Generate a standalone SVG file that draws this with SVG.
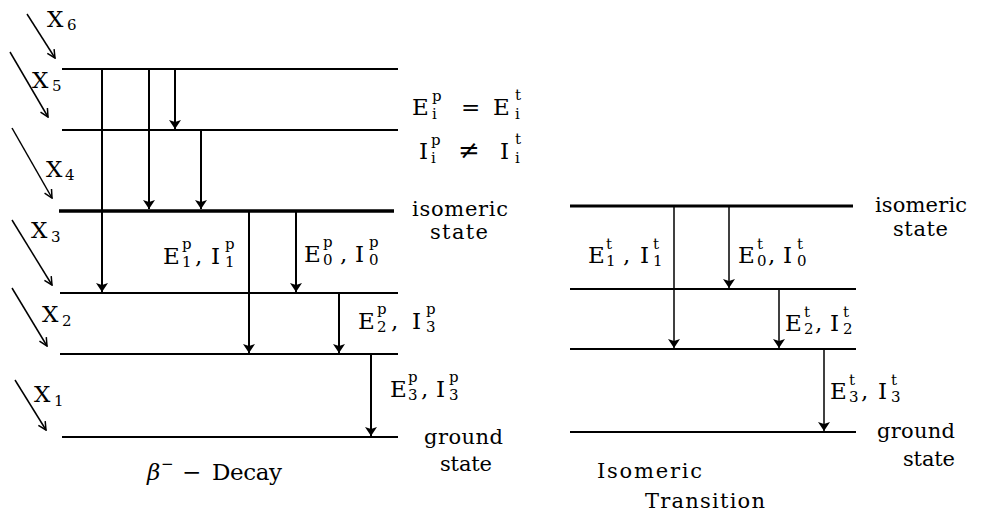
<svg xmlns="http://www.w3.org/2000/svg" width="991" height="514" viewBox="0 0 991 514">
<style>
.lv{stroke:#000;stroke-width:2;fill:none}
.thick{stroke-width:3.5}
.ar{stroke:#000;stroke-width:2;fill:none;marker-end:url(#ah)}
.ar2{stroke:#000;stroke-width:1.5;fill:none;marker-end:url(#ah)}
.dg{stroke:#000;stroke-width:1.5;fill:none;marker-end:url(#oh)}
text{font-family:"DejaVu Serif","Liberation Serif",serif;font-size:23px;fill:#000}
.s{font-size:15px}
.w{font-size:21px}
</style>
<defs>
<marker id="ah" viewBox="0 0 9 12" refX="9" refY="6" markerWidth="9" markerHeight="12" markerUnits="userSpaceOnUse" orient="auto"><path d="M0,0 L9,6 L0,12 L2,6 z" fill="#000"/></marker>
<marker id="oh" viewBox="0 0 10 10" refX="9" refY="5" markerWidth="10" markerHeight="10" markerUnits="userSpaceOnUse" orient="auto"><path d="M1,1 L9,5 L1,9" fill="none" stroke="#000" stroke-width="1.5"/></marker>
</defs>
<rect width="991" height="514" fill="#fff"/>

<g id="left-levels">
<line id="L5" class="lv" x1="62" y1="69" x2="398" y2="69"/>
<line id="L4" class="lv" x1="62" y1="130" x2="398" y2="130"/>
<line id="Liso" class="lv thick" x1="59" y1="211" x2="394" y2="211"/>
<line id="L2" class="lv" x1="60" y1="293" x2="398" y2="293"/>
<line id="L1" class="lv" x1="60" y1="354" x2="398" y2="354"/>
<line id="Lg" class="lv" x1="62" y1="437" x2="398" y2="437"/>
</g>

<g id="right-levels">
<line id="Riso" class="lv" style="stroke-width:3" x1="570" y1="206" x2="853" y2="206"/>
<line id="R2" class="lv" x1="570" y1="289" x2="856" y2="289"/>
<line id="R1" class="lv" x1="570" y1="349" x2="856" y2="349"/>
<line id="Rg" class="lv" x1="570" y1="432" x2="856" y2="432"/>
</g>

<g id="connectors">
<line class="ar" x1="102" y1="69" x2="102" y2="292"/>
<line class="ar" x1="149" y1="69" x2="149" y2="209"/>
<line class="ar" x1="175" y1="69" x2="175" y2="129"/>
<line class="ar" x1="201" y1="130" x2="201" y2="209"/>
<line class="ar" x1="249" y1="212" x2="249" y2="353"/>
<line class="ar" x1="296" y1="212" x2="296" y2="292"/>
<line class="ar" x1="339" y1="293" x2="339" y2="353"/>
<line class="ar" x1="371" y1="354" x2="371" y2="436"/>
<line class="ar2" x1="674" y1="207" x2="674" y2="348"/>
<line class="ar2" x1="729" y1="207" x2="729" y2="288"/>
<line class="ar2" x1="779" y1="289" x2="779" y2="348"/>
<line class="ar2" x1="824" y1="349" x2="824" y2="431"/>
<line class="dg" x1="27" y1="14" x2="55" y2="58"/>
<line class="dg" x1="10" y1="52" x2="48" y2="117"/>
<line class="dg" x1="12" y1="128" x2="52" y2="198"/>
<line class="dg" x1="12" y1="220" x2="52" y2="285"/>
<line class="dg" x1="12" y1="288" x2="47" y2="346"/>
<line class="dg" x1="15" y1="380" x2="46" y2="430"/>
</g>

<g id="x-labels">
<text id="X6"><tspan x="47" y="27">X</tspan><tspan class="s" x="67" y="30">6</tspan></text>
<text id="X5"><tspan x="32" y="88">X</tspan><tspan class="s" x="52" y="91">5</tspan></text>
<text id="X4"><tspan x="46" y="177">X</tspan><tspan class="s" x="65" y="180">4</tspan></text>
<text id="X3"><tspan x="31" y="238">X</tspan><tspan class="s" x="51" y="242">3</tspan></text>
<text id="X2"><tspan x="42" y="322">X</tspan><tspan class="s" x="62" y="326">2</tspan></text>
<text id="X1"><tspan x="34" y="402">X</tspan><tspan class="s" x="54" y="406">1</tspan></text>
</g>

<g id="equations">
<text><tspan x="412" y="115">E</tspan><tspan class="s" x="432" y="101">p</tspan><tspan class="s" x="432" y="119">i</tspan><tspan x="461" y="115">=</tspan><tspan x="493" y="115">E</tspan><tspan class="s" x="515" y="100">t</tspan><tspan class="s" x="515" y="119">i</tspan></text>
<text><tspan x="419" y="159">I</tspan><tspan class="s" x="431" y="145">p</tspan><tspan class="s" x="431" y="163">i</tspan><tspan x="458" y="159" style="font-size:26px">≠</tspan><tspan x="500" y="159">I</tspan><tspan class="s" x="515" y="144">t</tspan><tspan class="s" x="515" y="163">i</tspan></text>
</g>

<g id="left-labels">
<text><tspan x="163" y="264">E</tspan><tspan class="s" x="182" y="249">p</tspan><tspan class="s" x="182" y="267">1</tspan><tspan x="195" y="264">,</tspan><tspan x="211" y="264">I</tspan><tspan class="s" x="225" y="249">p</tspan><tspan class="s" x="225" y="267">1</tspan></text>
<text><tspan x="304" y="262">E</tspan><tspan class="s" x="323" y="247">p</tspan><tspan class="s" x="323" y="265">0</tspan><tspan x="340" y="262">,</tspan><tspan x="355" y="262">I</tspan><tspan class="s" x="369" y="247">p</tspan><tspan class="s" x="369" y="265">0</tspan></text>
<text><tspan x="358" y="329">E</tspan><tspan class="s" x="377" y="314">p</tspan><tspan class="s" x="377" y="332">2</tspan><tspan x="391" y="329">,</tspan><tspan x="412" y="329">I</tspan><tspan class="s" x="426" y="314">p</tspan><tspan class="s" x="426" y="332">3</tspan></text>
<text><tspan x="390" y="397">E</tspan><tspan class="s" x="408" y="382">p</tspan><tspan class="s" x="408" y="400">3</tspan><tspan x="421" y="397">,</tspan><tspan x="436" y="397">I</tspan><tspan class="s" x="449" y="382">p</tspan><tspan class="s" x="449" y="400">3</tspan></text>
<text class="w" x="412" y="216" textLength="96" lengthAdjust="spacing">isomeric</text>
<text class="w" x="430" y="239" textLength="58" lengthAdjust="spacing">state</text>
<text class="w" x="424" y="444" textLength="79" lengthAdjust="spacing">ground</text>
<text class="w" x="440" y="471" textLength="52" lengthAdjust="spacing">state</text>
<text><tspan x="147" y="480" font-style="italic">β</tspan><tspan class="s" x="161" y="469">−</tspan><tspan x="182" y="480">−</tspan><tspan x="212" y="480" textLength="70" lengthAdjust="spacing">Decay</tspan></text>
</g>

<g id="right-labels">
<text><tspan x="588" y="263">E</tspan><tspan class="s" x="606" y="249">t</tspan><tspan class="s" x="606" y="266">1</tspan><tspan x="623" y="263">,</tspan><tspan x="640" y="263">I</tspan><tspan class="s" x="653" y="249">t</tspan><tspan class="s" x="653" y="266">1</tspan></text>
<text><tspan x="738" y="263">E</tspan><tspan class="s" x="757" y="249">t</tspan><tspan class="s" x="757" y="266">0</tspan><tspan x="768" y="263">,</tspan><tspan x="783" y="263">I</tspan><tspan class="s" x="797" y="249">t</tspan><tspan class="s" x="797" y="266">0</tspan></text>
<text><tspan x="785" y="331">E</tspan><tspan class="s" x="804" y="317">t</tspan><tspan class="s" x="804" y="334">2</tspan><tspan x="815" y="331">,</tspan><tspan x="830" y="331">I</tspan><tspan class="s" x="843" y="317">t</tspan><tspan class="s" x="843" y="334">2</tspan></text>
<text><tspan x="830" y="399">E</tspan><tspan class="s" x="849" y="385">t</tspan><tspan class="s" x="849" y="402">3</tspan><tspan x="861" y="399">,</tspan><tspan x="878" y="399">I</tspan><tspan class="s" x="891" y="385">t</tspan><tspan class="s" x="891" y="402">3</tspan></text>
<text class="w" x="875" y="212" textLength="92" lengthAdjust="spacing">isomeric</text>
<text class="w" x="893" y="236" textLength="55" lengthAdjust="spacing">state</text>
<text class="w" x="877" y="438" textLength="78" lengthAdjust="spacing">ground</text>
<text class="w" x="903" y="466" textLength="52" lengthAdjust="spacing">state</text>
<text class="w" x="597" y="478" textLength="105" lengthAdjust="spacing">Isomeric</text>
<text class="w" x="645" y="508" textLength="120" lengthAdjust="spacing">Transition</text>
</g>
</svg>
